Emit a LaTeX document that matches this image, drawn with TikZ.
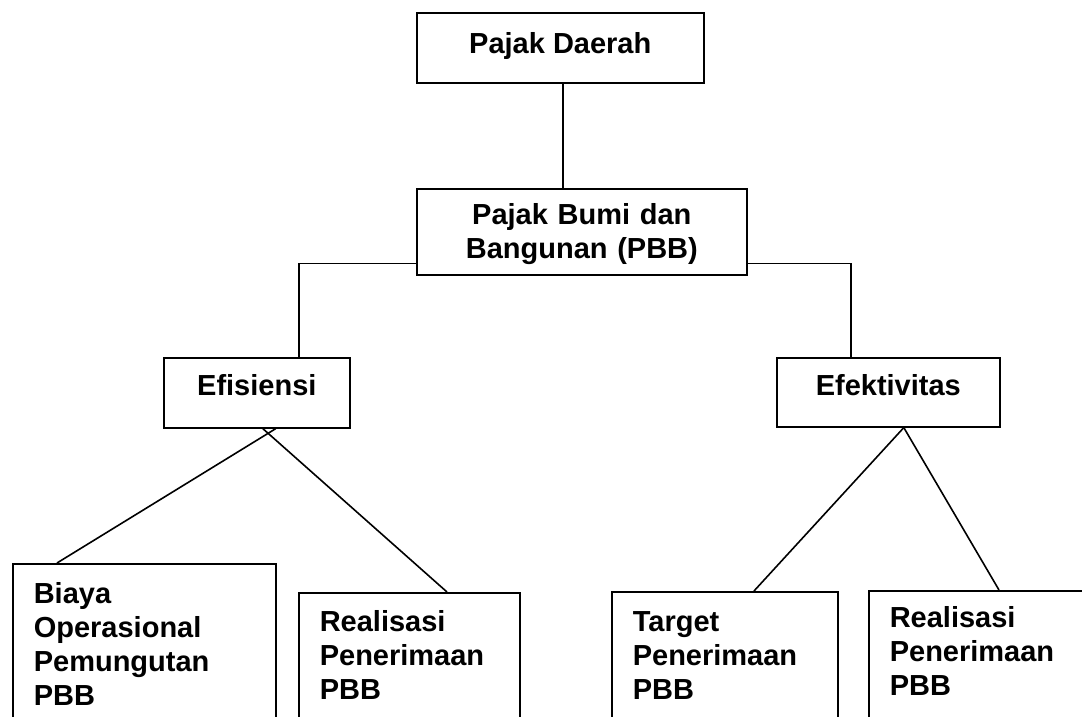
\documentclass[tikz,border=0pt]{standalone}
\usepackage{fontspec}
\setmainfont{Liberation Sans}
\usepackage{tikz}
\usetikzlibrary{positioning}

\begin{document}
\begin{tikzpicture}[x=1pt, y=-1pt,
    box/.style={draw, line width=1.6pt, inner sep=0pt, anchor=north west, font=\bfseries\fontsize{29}{34}\selectfont},
    leaf/.style={box, inner xsep=21pt, align=left, text depth=200pt},
    link/.style={line width=1.6pt}]

    \useasboundingbox (0,0) rectangle (1082,717);
    \clip (0,0) rectangle (1082,717);

    % Top
    \node[box, minimum width=287pt, text height=41pt, text depth=29pt] (daerah) at (416,12) {Pajak Daerah};
    \node[box, text width=330pt, align=center, text height=36pt, text depth=50pt] (pbb) at (416,188) {Pajak Bumi dan\\Bangunan (PBB)};

    % Efisiensi / Efektivitas
    \node[box, minimum width=186pt, text height=38pt, text depth=32pt] (efi) at (163,357) {Efisiensi};
    \node[box, minimum width=223pt, text height=38pt, text depth=31pt] (efk) at (776,357) {Efektivitas};

    % Leaves
    \node[leaf, text width=221pt, text height=40pt] (biaya) at (12,563) {Biaya\\Operasional\\Pemungutan\\PBB};
    \node[leaf, text width=179pt, text height=39pt] (real1) at (298,592) {Realisasi\\Penerimaan\\PBB};
    \node[leaf, text width=184pt, text height=40pt] (target) at (611,591) {Target\\Penerimaan\\PBB};
    \node[leaf, text width=188pt, text height=37pt] (real2) at (868,590) {Realisasi\\Penerimaan\\PBB};

    % Lines
    \draw[link] ([xshift=2.5pt]daerah.south) -- ([xshift=-19pt]pbb.north);
    \draw[link] ([yshift=12pt]pbb.south west) -| ([xshift=42pt]efi.north);
    \draw[link] ([yshift=12pt]pbb.south east) -| ([xshift=-37.5pt]efk.north);
    \draw[link] ([xshift=19pt]efi.south) -- ([xshift=45pt]biaya.north west);
    \draw[link] ([xshift=6pt]efi.south) -- ([xshift=149pt]real1.north west);
    \draw[link] ([xshift=15.5pt]efk.south) -- ([xshift=143pt]target.north west);
    \draw[link] ([xshift=15.5pt]efk.south) -- ([xshift=131pt]real2.north west);
\end{tikzpicture}
\end{document}
